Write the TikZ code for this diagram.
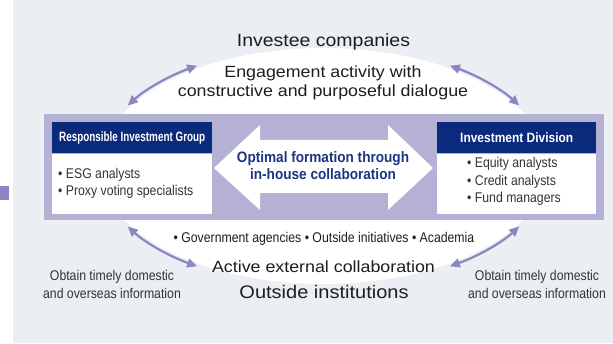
\documentclass[tikz,border=0pt]{standalone}
\usepackage{fontspec}
\setmainfont{Liberation Sans}
\newfontfamily\lsans[FakeStretch=1.1]{Liberation Sans}
\newfontfamily\lcond[FakeStretch=0.87]{Liberation Sans}
\newfontfamily\lcondb[FakeStretch=0.9]{Liberation Sans}
\newfontfamily\hdra[FakeStretch=0.732]{Liberation Sans}
\newfontfamily\hdrb[FakeStretch=0.886]{Liberation Sans}
\usetikzlibrary{arrows.meta,calc}
\definecolor{bgc}{HTML}{EBEEF2}
\definecolor{bandc}{HTML}{B4B1D5}
\definecolor{arrc}{HTML}{8A86C1}
\definecolor{navy}{HTML}{0B2A7B}
\definecolor{ctext}{HTML}{1A3483}
\definecolor{txt}{HTML}{1E1E1E}
\definecolor{gtxt}{HTML}{333333}
\tikzset{
  biglabel/.style={inner sep=0pt, anchor=base, text=txt, align=center},
  smalltext/.style={inner sep=0pt, text=gtxt, font={\lcond\fontsize{14.1}{17.7}\selectfont}},
  hdrbox/.style={fill=navy, text=white, inner sep=0pt, minimum height=31pt, minimum width=160pt, anchor=north west},
  bodybox/.style={fill=white, inner sep=0pt, minimum height=60pt, minimum width=160pt, anchor=north west},
  linkarrow/.style={draw=arrc, line width=2.2pt, {Triangle[length=10pt,width=9pt]}-{Triangle[length=10pt,width=9pt]}},
}
\begin{document}
\begin{tikzpicture}[x=1pt,y=1pt]
\useasboundingbox (0,0) rectangle (613,343);
% background
\fill[bgc] (13,0) rectangle (613,343);
\fill[arrc] (0,143) rectangle (9,157);
% white ellipse
\coordinate (ec) at (323.5,177);
\fill[white] (ec) ellipse[x radius=224pt, y radius=118pt];
% band
\fill[bandc] (44,123) rectangle (604,229);
% boxes
\node[hdrbox, font={\hdra\bfseries\fontsize{13.5}{16}\selectfont}] (rig) at (52,221) {Responsible Investment Group};
\node[bodybox] (rigbody) at (rig.south west) {};
\node[hdrbox, minimum width=159pt, font={\hdrb\bfseries\fontsize{13.5}{16}\selectfont}] (invd) at (437,221) {Investment Division};
\node[bodybox, minimum width=159pt] (invbody) at (invd.south west) {};
\node[smalltext, anchor=base west, align=left] (riglist) at (58,147) {• ESG analysts\\• Proxy voting specialists};
\node[smalltext, anchor=base west, align=left] (invlist) at (467,140) {• Equity analysts\\• Credit analysts\\• Fund managers};
% central double arrow
\fill[white] (214,175) -- (260,218) -- (260,203) -- (388,203) -- (388,218) -- (433,175)
  -- (388,133) -- (388,150) -- (260,150) -- (260,133) -- cycle;
\node[inner sep=0pt, anchor=base, align=center, text=ctext, font={\lcondb\bfseries\fontsize{15.1}{17}\selectfont}] (optimal) at (323,163) {Optimal formation through\\in-house collaboration};
% labels
\node[biglabel, font={\lsans\fontsize{17.7}{20}\selectfont}] (investee) at (323.5,296) {Investee companies};
\node[biglabel, font={\lsans\fontsize{16.2}{19}\selectfont}] (engage) at (323,246) {Engagement activity with\\constructive and purposeful dialogue};
\node[smalltext, anchor=base, text=txt] (orgs) at (324,101) {• Government agencies • Outside initiatives • Academia};
\node[biglabel, font={\lsans\fontsize{16.2}{19}\selectfont}] (active) at (323.5,71) {Active external collaboration};
\node[biglabel, font={\lsans\fontsize{18.2}{20}\selectfont}] (outside) at (324,45) {Outside institutions};
\node[smalltext, anchor=base, align=center] (infol) at (112,45) {Obtain timely domestic\\and overseas information};
\node[smalltext, anchor=base, align=center] (infor) at (537,45) {Obtain timely domestic\\and overseas information};
% curved arrows
\draw[linkarrow] ($(ec)+(150:226pt and 121pt)$) arc[start angle=150, end angle=124, x radius=226pt, y radius=121pt];
\draw[linkarrow] ($(ec)+(56:226pt and 121pt)$) arc[start angle=56, end angle=30, x radius=226pt, y radius=121pt];
\draw[linkarrow] ($(ec)+(210:226pt and 121pt)$) arc[start angle=210, end angle=236, x radius=226pt, y radius=121pt];
\draw[linkarrow] ($(ec)+(304:226pt and 121pt)$) arc[start angle=304, end angle=330, x radius=226pt, y radius=121pt];
\end{tikzpicture}
\end{document}
